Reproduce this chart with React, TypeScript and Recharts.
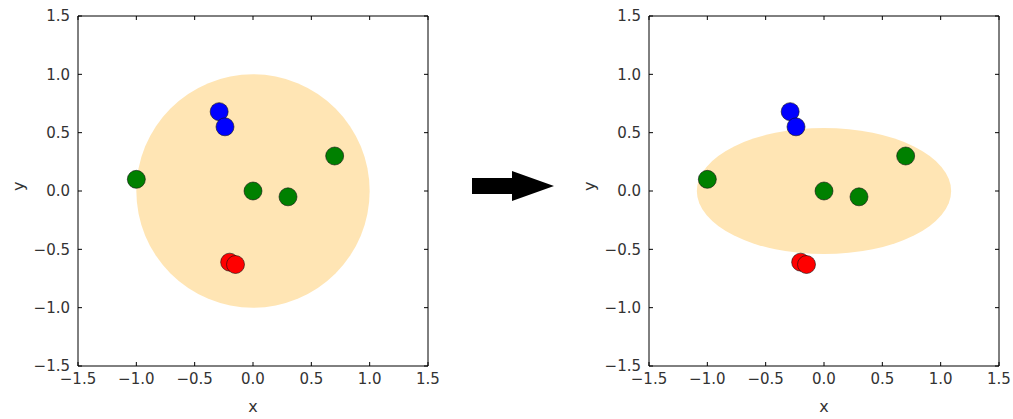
import { ScatterChart, Scatter, XAxis, YAxis, ReferenceArea } from 'recharts'

// tick values shared by both panels
const ticks = [-1.5, -1.0, -0.5, 0.0, 0.5, 1.0, 1.5]

// points (same in both panels)
const greenPoints = [
  { x: -1.0, y: 0.1 },
  { x: 0.0, y: 0.0 },
  { x: 0.3, y: -0.05 },
  { x: 0.7, y: 0.3 },
]
const bluePoints = [
  { x: -0.29, y: 0.68 },
  { x: -0.24, y: 0.55 },
]
const redPoints = [
  { x: -0.2, y: -0.61 },
  { x: -0.15, y: -0.63 },
]

// shaded region: centre and half-axes, before and after
const circleShape = { cx: 0.0, cy: 0.0, rx: 1.0, ry: 1.0 }
const ellipseShape = { cx: 0.0, cy: 0.0, rx: 1.09, ry: 0.54 }

const fontFamily = 'DejaVu Sans'
const fmt = (v: number) => v.toFixed(1).replace('-', '\u2212')
const blank = () => ''

const dot = (fill: string) => (props: any) => (
  <circle cx={props.cx} cy={props.cy} r={9} fill={fill} stroke="#111" strokeWidth={0.6} />
)

const ellipseFill = (props: any) => (
  <ellipse
    cx={props.x + props.width / 2}
    cy={props.y + props.height / 2}
    rx={Math.abs(props.width) / 2}
    ry={Math.abs(props.height) / 2}
    fill="#ffe5b4"
  />
)

function Panel({ shape }: { shape: typeof circleShape }) {
  const tickStyle = { fontSize: 15, fill: '#333', fontFamily }
  return (
    <ScatterChart width={450} height={419} margin={{ top: 15, right: 21, bottom: 0, left: 0 }}>
      <XAxis
        xAxisId="b"
        type="number"
        dataKey="x"
        domain={[-1.5, 1.5]}
        ticks={ticks}
        tickFormatter={fmt}
        height={53}
        tickSize={-4}
        tickMargin={11}
        tick={tickStyle}
        fontSize={15}
        stroke="#000"
        allowDataOverflow
        label={{ value: 'x', position: 'insideBottom', offset: 7, fontSize: 16, fill: '#333', fontFamily }}
      />
      <XAxis
        xAxisId="t"
        orientation="top"
        type="number"
        dataKey="x"
        domain={[-1.5, 1.5]}
        ticks={ticks}
        tickFormatter={blank}
        height={1}
        tickSize={-4}
        stroke="#000"
        allowDataOverflow
      />
      <YAxis
        yAxisId="l"
        type="number"
        dataKey="y"
        domain={[-1.5, 1.5]}
        ticks={ticks}
        tickFormatter={fmt}
        width={78}
        tickSize={-4}
        tickMargin={12}
        tick={tickStyle}
        fontSize={15}
        stroke="#000"
        allowDataOverflow
        label={{ value: 'y', angle: -90, position: 'insideLeft', offset: 18, fontSize: 16, fill: '#333', fontFamily }}
      />
      <YAxis
        yAxisId="r"
        orientation="right"
        type="number"
        dataKey="y"
        domain={[-1.5, 1.5]}
        ticks={ticks}
        tickFormatter={blank}
        width={1}
        tickSize={-4}
        stroke="#000"
        allowDataOverflow
      />
      <ReferenceArea
        xAxisId="b"
        yAxisId="l"
        x1={shape.cx - shape.rx}
        x2={shape.cx + shape.rx}
        y1={shape.cy - shape.ry}
        y2={shape.cy + shape.ry}
        shape={ellipseFill}
      />
      <Scatter xAxisId="b" yAxisId="l" data={greenPoints} shape={dot('#008000')} isAnimationActive={false} />
      <Scatter xAxisId="b" yAxisId="l" data={bluePoints} shape={dot('#0000ff')} isAnimationActive={false} />
      <Scatter xAxisId="b" yAxisId="l" data={redPoints} shape={dot('#ff0000')} isAnimationActive={false} />
    </ScatterChart>
  )
}

export default function App() {
  return (
    <div style={{ position: 'absolute', left: 0, top: 0, width: 1013, height: 419, background: '#fff' }}>
      <div style={{ position: 'absolute', left: 0, top: 0 }}>
        <Panel shape={circleShape} />
      </div>
      <svg style={{ position: 'absolute', left: 470, top: 168 }} width={86} height={36}>
        <polygon points="2,10 42,10 42,3 84,18 42,33 42,26 2,26" fill="#000" />
      </svg>
      <div style={{ position: 'absolute', left: 571, top: 0 }}>
        <Panel shape={ellipseShape} />
      </div>
    </div>
  )
}
